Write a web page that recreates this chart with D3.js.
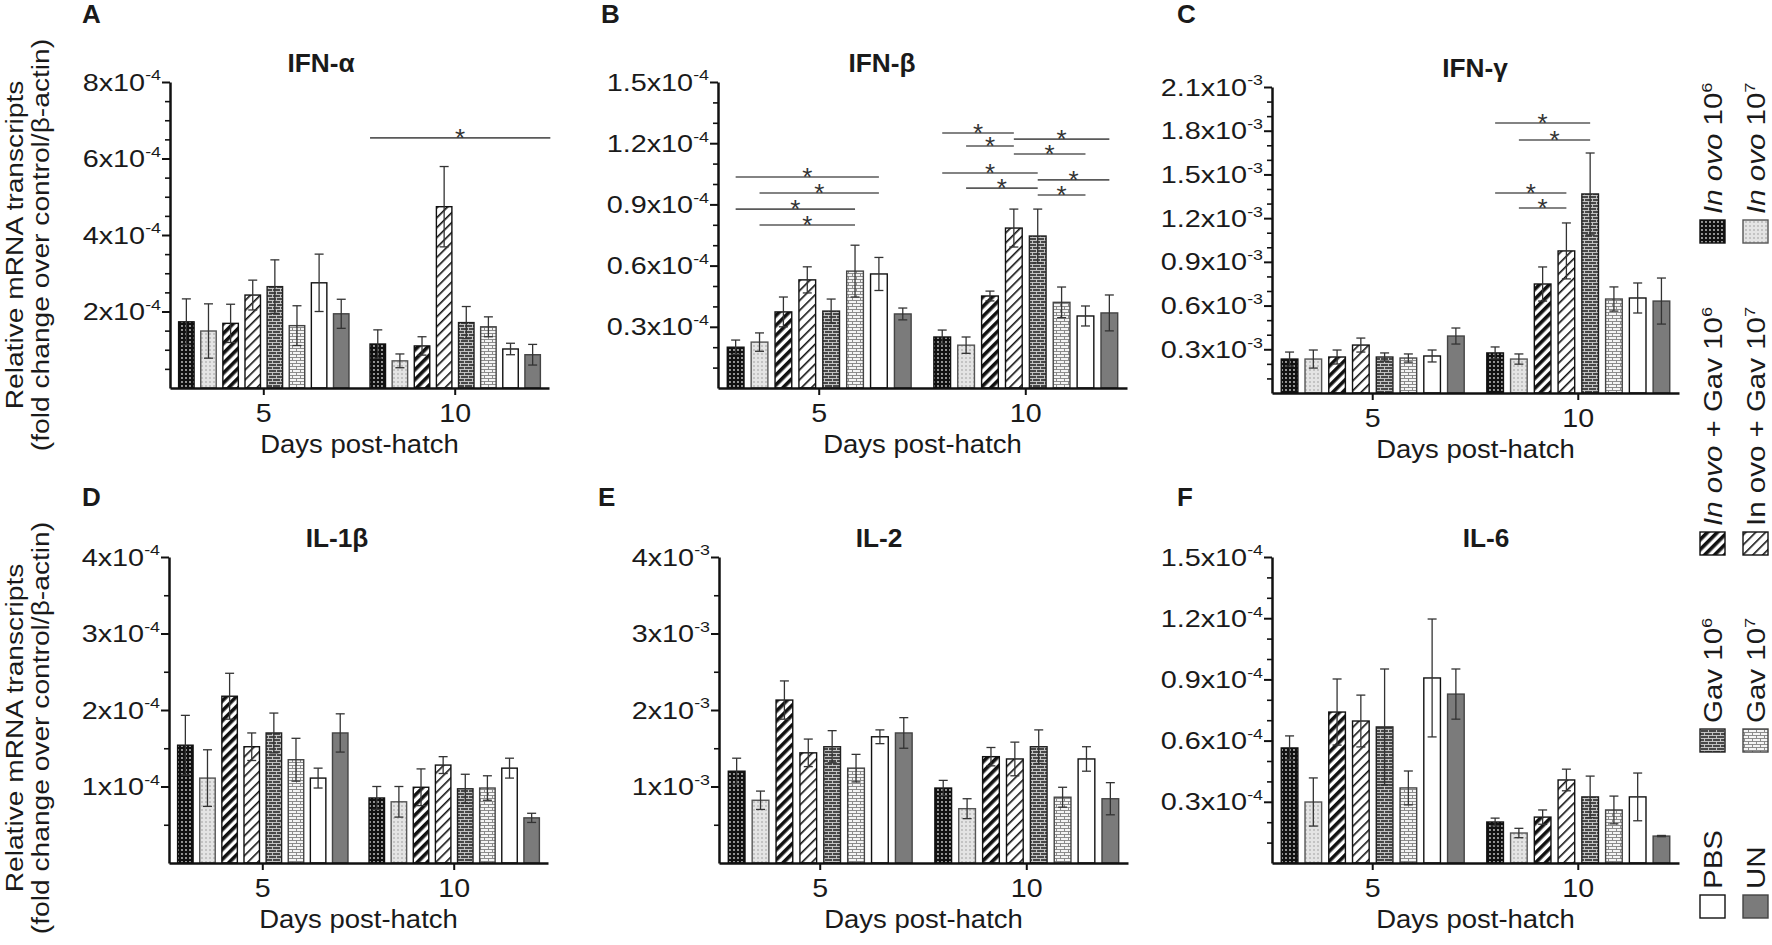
<!DOCTYPE html>
<html lang="en">
<head>
<meta charset="UTF-8" />
<title>Cytokine transcripts</title>
<script src="https://d3js.org/d3.v7.min.js"></script>
<style>
  body { margin: 0; background: #fff; }
  svg { display: block; font-family: "Liberation Sans", Arial, sans-serif; }
  text { white-space: pre; }
</style>
</head>
<body>
<svg id="chart" width="1772" height="945"></svg>
<script>
// ---- data (values in units of 10^exp of each panel) ----
const days = ["5", "10"];
const seriesNames = ["In ovo 10^6", "In ovo 10^7", "In ovo + Gav 10^6", "In ovo + Gav 10^7",
                     "Gav 10^6", "Gav 10^7", "PBS", "UN"];

const ifnAlphaMean = [[1.73, 1.49, 1.69, 2.43, 2.65, 1.63, 2.75, 1.94],
                      [1.15, 0.71, 1.10, 4.74, 1.71, 1.60, 1.02, 0.87]];
const ifnAlphaSem  = [[0.60, 0.71, 0.50, 0.39, 0.70, 0.52, 0.75, 0.38],
                      [0.37, 0.18, 0.24, 1.05, 0.42, 0.26, 0.15, 0.27]];
const ifnAlphaTicks = ["2", "4", "6", "8"];
const ifnAlphaSig = [[1, -0.35, 7.8, 6.54]];

const ifnBetaMean = [[0.200, 0.225, 0.373, 0.530, 0.377, 0.573, 0.559, 0.363],
                     [0.250, 0.210, 0.451, 0.784, 0.745, 0.420, 0.353, 0.368]];
const ifnBetaSem  = [[0.035, 0.045, 0.073, 0.064, 0.059, 0.127, 0.081, 0.029],
                     [0.034, 0.040, 0.024, 0.093, 0.132, 0.075, 0.049, 0.088]];
const ifnBetaTicks = ["0.3", "0.6", "0.9", "1.2", "1.5"];
const ifnBetaSig = [[0, 0, 6, 1.034], [0, 1, 6, 0.956], [0, 0, 5, 0.877], [0, 1, 5, 0.799],
                    [1, 0, 3, 1.25], [1, 1, 3, 1.186], [1, 0, 4, 1.054], [1, 1, 4, 0.98],
                    [1, 3, 7, 1.22], [1, 3, 6, 1.147], [1, 4, 7, 1.02], [1, 4, 6, 0.946]];

const ifnGammaMean = [[0.233, 0.233, 0.247, 0.329, 0.247, 0.240, 0.254, 0.391],
                      [0.275, 0.233, 0.748, 0.975, 1.366, 0.645, 0.652, 0.631]];
const ifnGammaSem  = [[0.048, 0.062, 0.048, 0.048, 0.028, 0.028, 0.041, 0.055],
                      [0.041, 0.035, 0.117, 0.192, 0.281, 0.083, 0.103, 0.158]];
const ifnGammaTicks = ["0.3", "0.6", "0.9", "1.2", "1.5", "1.8", "2.1"];
const ifnGammaSig = [[1, 0, 4, 1.853], [1, 1, 4, 1.736], [1, 0, 3, 1.373], [1, 1, 3, 1.27]];

const il1bMean = [[1.54, 1.11, 2.18, 1.52, 1.70, 1.35, 1.11, 1.70],
                  [0.85, 0.80, 0.99, 1.28, 0.97, 0.98, 1.24, 0.59]];
const il1bSem  = [[0.39, 0.37, 0.30, 0.18, 0.26, 0.28, 0.13, 0.25],
                  [0.15, 0.20, 0.24, 0.11, 0.19, 0.16, 0.13, 0.06]];
const il1bTicks = ["1", "2", "3", "4"];

const il2Mean = [[1.20, 0.82, 2.13, 1.44, 1.52, 1.24, 1.65, 1.70],
                 [0.98, 0.71, 1.39, 1.36, 1.52, 0.86, 1.36, 0.84]];
const il2Sem  = [[0.17, 0.12, 0.25, 0.18, 0.21, 0.18, 0.09, 0.20],
                 [0.10, 0.13, 0.12, 0.22, 0.22, 0.13, 0.16, 0.21]];
const il2Ticks = ["1", "2", "3", "4"];

const il6Mean = [[0.564, 0.299, 0.740, 0.696, 0.667, 0.368, 0.907, 0.828],
                 [0.201, 0.147, 0.225, 0.407, 0.324, 0.260, 0.324, 0.132]];
const il6Sem  = [[0.059, 0.118, 0.162, 0.127, 0.284, 0.083, 0.289, 0.123],
                 [0.019, 0.023, 0.035, 0.053, 0.102, 0.068, 0.117, 0.003]];
const il6Ticks = ["0.3", "0.6", "0.9", "1.2", "1.5"];

// ---- layout / styles ----
const panels = [
  { key: "A", title: "IFN-α", mean: ifnAlphaMean, sem: ifnAlphaSem, ticks: ifnAlphaTicks, minor: 0.5, exp: "-4", sig: ifnAlphaSig,
    x: 170, w: 379, y0: 388, top: 82, tx: 321, ty: 72, lx: 82, ly: 23 },
  { key: "B", title: "IFN-β", mean: ifnBetaMean, sem: ifnBetaSem, ticks: ifnBetaTicks, minor: 0.1, exp: "-4", sig: ifnBetaSig,
    x: 718, w: 409, y0: 388, top: 82, tx: 882, ty: 72, lx: 601, ly: 23 },
  { key: "C", title: "IFN-γ", mean: ifnGammaMean, sem: ifnGammaSem, ticks: ifnGammaTicks, minor: 0.1, exp: "-3", sig: ifnGammaSig,
    x: 1272, w: 407, y0: 393, top: 87, tx: 1475, ty: 77, lx: 1177, ly: 23 },
  { key: "D", title: "IL-1β", mean: il1bMean, sem: il1bSem, ticks: il1bTicks, minor: 0.5, exp: "-4", sig: [],
    x: 169, w: 379, y0: 863, top: 557, tx: 337, ty: 547, lx: 82, ly: 506 },
  { key: "E", title: "IL-2", mean: il2Mean, sem: il2Sem, ticks: il2Ticks, minor: 0.5, exp: "-3", sig: [],
    x: 719, w: 409, y0: 863, top: 557, tx: 879, ty: 547, lx: 598, ly: 506 },
  { key: "F", title: "IL-6", mean: il6Mean, sem: il6Sem, ticks: il6Ticks, minor: 0.1, exp: "-4", sig: [],
    x: 1272, w: 407, y0: 863, top: 557, tx: 1486, ty: 547, lx: 1177, ly: 506 }
];

const fills = ["url(#dotsDark)", "url(#dotsLight)", "url(#stripeThick)", "url(#stripeThin)",
               "url(#brickDark)", "url(#brickLight)", "#ffffff", "#7b7b7b"];
const strokes = ["#111", "#555", "#111", "#111", "#222", "#444", "#111", "#444"];
const legendItalic = [true, true, true, false, false, false, false, false];
const legendRowY = [243, 555, 752, 918];

const svg = d3.select("#chart");
const defs = svg.append("defs");

function pattern(id, w, h, rot) {
  const p = defs.append("pattern").attr("id", id)
    .attr("width", w).attr("height", h).attr("patternUnits", "userSpaceOnUse");
  if (rot) p.attr("patternTransform", `rotate(${rot})`);
  return p;
}
let p = pattern("dotsDark", 4, 4);
p.append("rect").attr("width", 4).attr("height", 4).attr("fill", "#111");
p.append("circle").attr("cx", 2).attr("cy", 2).attr("r", 0.9).attr("fill", "#cfcfcf");
p = pattern("dotsLight", 4, 4);
p.append("rect").attr("width", 4).attr("height", 4).attr("fill", "#e4e4e4");
p.append("circle").attr("cx", 2).attr("cy", 2).attr("r", 0.8).attr("fill", "#999");
p = pattern("stripeThick", 7, 7, 45);
p.append("rect").attr("width", 7).attr("height", 7).attr("fill", "#fff");
p.append("rect").attr("width", 3.6).attr("height", 7).attr("fill", "#111");
p = pattern("stripeThin", 7, 7, 45);
p.append("rect").attr("width", 7).attr("height", 7).attr("fill", "#fff");
p.append("rect").attr("width", 1.6).attr("height", 7).attr("fill", "#111");
p = pattern("brickDark", 8, 6);
p.append("rect").attr("width", 8).attr("height", 6).attr("fill", "#484848");
p.append("path").attr("d", "M0,0.5H8M0,3.5H8M0.5,0.5V3.5M4.5,3.5V6.5")
  .attr("stroke", "#d0d0d0").attr("stroke-width", 0.9);
p = pattern("brickLight", 8, 6);
p.append("rect").attr("width", 8).attr("height", 6).attr("fill", "#f4f4f4");
p.append("path").attr("d", "M0,0.5H8M0,3.5H8M0.5,0.5V3.5M4.5,3.5V6.5")
  .attr("stroke", "#808080").attr("stroke-width", 0.9);

// text helper: parts are strings or {t, sup, it}; sx stretches along the baseline
function txt(g, x, y, parts, o = {}) {
  const size = o.size || 24;
  const t = g.append("text")
    .attr("transform", `translate(${x},${y})${o.rot ? ` rotate(${o.rot})` : ""} scale(${o.sx || 1},1)`)
    .attr("text-anchor", o.anchor || "start")
    .attr("font-size", size)
    .attr("font-weight", o.bold ? "bold" : null)
    .attr("fill", o.fill || "#1a1a1a");
  (typeof parts === "string" ? [parts] : parts).forEach(pt => {
    const d = typeof pt === "string" ? { t: pt } : pt;
    const s = t.append("tspan").text(d.t);
    if (d.it) s.attr("font-style", "italic");
    if (d.sup) s.attr("font-size", size * 0.62).attr("dy", -size * 0.42);
  });
  return t;
}

function nameParts(name, italic) {
  const [base, sup] = name.split("^");
  const parts = italic && base.startsWith("In ovo")
    ? [{ t: "In ovo", it: true }, base.slice(6)]
    : [base];
  if (sup) parts.push({ t: sup, sup: true });
  return parts;
}

panels.forEach(P => {
  const g = svg.append("g");
  const max = +P.ticks[P.ticks.length - 1];
  const y = d3.scaleLinear().domain([0, max]).range([P.y0, P.top]);
  const x = d3.scaleBand().domain(days).range([P.x, P.x + P.w]).paddingInner(0.11).paddingOuter(0.045);
  const xs = d3.scaleBand().domain(d3.range(seriesNames.length)).range([0, x.bandwidth()]).paddingInner(0.3);
  const xAt = (di, i) => x(days[di]) + i * xs.step() + xs.bandwidth() / 2;

  const rows = P.mean.flatMap((vals, di) => vals.map((v, si) => ({ di, si, v, e: P.sem[di][si] })));

  g.selectAll("rect.bar").data(rows).join("rect")
    .attr("class", "bar")
    .attr("x", d => x(days[d.di]) + xs(d.si))
    .attr("y", d => y(d.v))
    .attr("width", xs.bandwidth())
    .attr("height", d => y(0) - y(d.v))
    .attr("fill", d => fills[d.si])
    .attr("stroke", d => strokes[d.si])
    .attr("stroke-width", 1.4);

  const eb = g.selectAll("g.err").data(rows).join("g").attr("class", "err")
    .attr("stroke", "#333").attr("stroke-width", 1.3);
  const cx = d => x(days[d.di]) + xs(d.si) + xs.bandwidth() / 2;
  eb.append("line").attr("x1", cx).attr("x2", cx)
    .attr("y1", d => y(d.v - d.e)).attr("y2", d => y(d.v + d.e));
  eb.append("line").attr("x1", d => cx(d) - 4.5).attr("x2", d => cx(d) + 4.5)
    .attr("y1", d => y(d.v + d.e)).attr("y2", d => y(d.v + d.e));
  eb.append("line").attr("x1", d => cx(d) - 4.5).attr("x2", d => cx(d) + 4.5)
    .attr("y1", d => y(d.v - d.e)).attr("y2", d => y(d.v - d.e));

  // significance bars
  P.sig.forEach(([di, a, b, v]) => {
    const x1 = xAt(di, a), x2 = xAt(di, b);
    g.append("line").attr("x1", x1).attr("x2", x2).attr("y1", y(v)).attr("y2", y(v))
      .attr("stroke", "#5a5a5a").attr("stroke-width", 1.6);
    txt(g, (x1 + x2) / 2, y(v) + 9, "*", { anchor: "middle", size: 26, fill: "#333" });
  });

  // axes
  const majors = P.ticks.map(Number);
  const minors = d3.range(0, max + 1e-9, P.minor).map(v => +v.toFixed(3))
    .filter(v => v > 0 && !majors.some(m => Math.abs(m - v) < 1e-6));

  const xa = g.append("g").attr("transform", `translate(0,${P.y0})`)
    .call(d3.axisBottom(x).tickSize(7).tickSizeOuter(0).tickFormat(""));
  xa.select(".domain").attr("stroke", "#111").attr("stroke-width", 2.5);
  xa.selectAll(".tick line").attr("stroke", "#111").attr("stroke-width", 2);

  const ym = g.append("g").attr("transform", `translate(${P.x},0)`)
    .call(d3.axisLeft(y).tickValues(minors).tickSize(5).tickFormat(""));
  ym.select(".domain").remove();
  ym.selectAll(".tick line").attr("stroke", "#111").attr("stroke-width", 1.6);

  const ya = g.append("g").attr("transform", `translate(${P.x},0)`)
    .call(d3.axisLeft(y).tickValues(majors).tickSize(8).tickSizeOuter(0).tickFormat(""));
  ya.select(".domain").attr("stroke", "#111").attr("stroke-width", 2.5);
  ya.selectAll(".tick line").attr("stroke", "#111").attr("stroke-width", 2);

  P.ticks.forEach(m => {
    txt(g, P.x - 9, y(+m) + 8.5, [m + "x10", { t: P.exp, sup: true }], { anchor: "end", size: 24, sx: 1.2 });
  });
  days.forEach(d => {
    txt(g, x(d) + x.bandwidth() / 2, P.y0 + 34, d, { anchor: "middle", size: 26, sx: 1.1 });
  });
  txt(g, P.x + P.w / 2, P.y0 + 65, "Days post-hatch", { anchor: "middle", size: 25, sx: 1.1 });

  txt(g, P.tx, P.ty, P.title, { anchor: "middle", size: 25, bold: true, sx: 1.05 });
  txt(g, P.lx, P.ly, P.key, { size: 26, bold: true });
});

// y-axis labels
[245, 728].forEach(yc => {
  txt(svg, 23, yc, "Relative mRNA transcripts", { rot: -90, anchor: "middle", size: 24.5, sx: 1.15 });
  txt(svg, 49, yc, "(fold change over control/β-actin)", { rot: -90, anchor: "middle", size: 24.5, sx: 1.15 });
});

// legend (rotated)
const legendColX = [1700, 1743];
seriesNames.forEach((name, i) => {
  const col = i % 2, row = Math.floor(i / 2);
  const sy = legendRowY[row];
  svg.append("rect").attr("x", legendColX[col]).attr("y", sy - 23)
    .attr("width", 25).attr("height", 23)
    .attr("fill", fills[i]).attr("stroke", strokes[i]).attr("stroke-width", 1.4);
  txt(svg, legendColX[col] + 22, sy - 29, nameParts(name, legendItalic[i]),
      { rot: -90, size: 25, sx: 1.18 });
});
</script>
</body>
</html>
